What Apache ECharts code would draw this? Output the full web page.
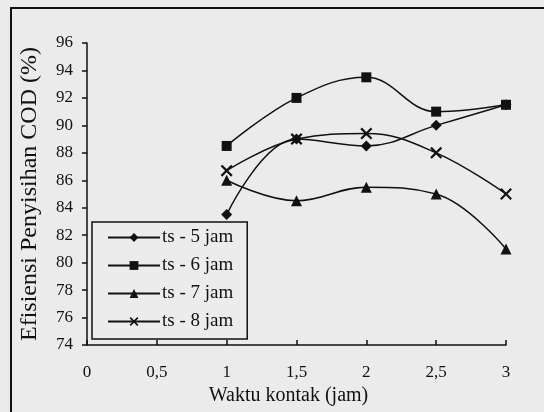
<!DOCTYPE html>
<html><head><meta charset="utf-8">
<script src="https://cdn.jsdelivr.net/npm/echarts@6/dist/echarts.min.js"></script>
<style>html,body{margin:0;padding:0;background:#ebebeb}#c{width:544px;height:412px}</style>
</head><body><div id="c"></div>
<script>
const xValues = [1, 1.5, 2, 2.5, 3];
const seriesNames = ['ts - 5 jam', 'ts - 6 jam', 'ts - 7 jam', 'ts - 8 jam'];
const ts5 = [83.5, 89, 88.5, 90, 91.5];
const ts6 = [88.5, 92, 93.5, 91, 91.5];
const ts7 = [86, 84.5, 85.5, 85, 81];
const ts8 = [86.7, 89, 89.4, 88, 85];
const xAxisTitle = 'Waktu kontak (jam)';
const yAxisTitle = 'Efisiensi Penyisihan COD (%)';

const font = 'Liberation Serif';
const xSym = 'path://M0,1.3L1.3,0L5,3.7L8.7,0L10,1.3L6.3,5L10,8.7L8.7,10L5,6.3L1.3,10L0,8.7L3.7,5Z';
const symbols = ['diamond', 'rect', 'triangle', xSym];
const sizes = [11, 10, 11, 12];
const data = [ts5, ts6, ts7, ts8];

const chart = echarts.init(document.getElementById('c'));
chart.setOption({
  backgroundColor: '#ebebeb',
  animation: false,
  textStyle: { fontFamily: font, color: '#111' },
  grid: { left: 87, right: 38, top: 43, bottom: 67, containLabel: false },
  graphic: [{
    type: 'rect', shape: { x: 11, y: 8, width: 560, height: 420 },
    style: { fill: 'none', stroke: '#111', lineWidth: 2 }
  }],
  legend: {
    orient: 'vertical', left: 92, top: 222,
    backgroundColor: '#ececec',
    borderColor: '#111', borderWidth: 1.5, padding: [6, 14, 8, 15],
    itemWidth: 52, itemHeight: 11, itemGap: 9,
    textStyle: { fontFamily: font, fontSize: 19, color: '#111', padding: [0, 0, 0, -3] },
    data: seriesNames
  },
  xAxis: {
    type: 'value', min: 0, max: 3, interval: 0.5,
    name: xAxisTitle, nameLocation: 'middle', nameGap: 40,
    nameTextStyle: { fontFamily: font, fontSize: 20, color: '#111', padding: [0, 16, 0, 0] },
    axisLine: { lineStyle: { color: '#111', width: 1.5 } },
    axisTick: { inside: true, length: 5, lineStyle: { color: '#111', width: 1.5 } },
    axisLabel: { fontFamily: font, fontSize: 17, color: '#111', margin: 19,
      formatter: v => String(v).replace('.', ',') },
    splitLine: { show: false }
  },
  yAxis: {
    type: 'value', min: 74, max: 96, interval: 2,
    name: yAxisTitle, nameLocation: 'middle', nameGap: 45, nameRotate: 90,
    nameTextStyle: { fontFamily: font, fontSize: 24, color: '#111' },
    axisLine: { show: true, lineStyle: { color: '#111', width: 1.5 } },
    axisTick: { show: true, length: 5, lineStyle: { color: '#111', width: 1.5 } },
    axisLabel: { fontFamily: font, fontSize: 17, color: '#111', margin: 14 },
    splitLine: { show: false }
  },
  series: seriesNames.map((n, i) => ({
    name: n, type: 'line', smooth: 0.4,
    data: xValues.map((x, j) => [x, data[i][j]]),
    symbol: symbols[i], symbolSize: sizes[i],
    itemStyle: { color: '#111' },
    lineStyle: { color: '#111', width: 1.5 }
  }))
});
</script></body></html>
